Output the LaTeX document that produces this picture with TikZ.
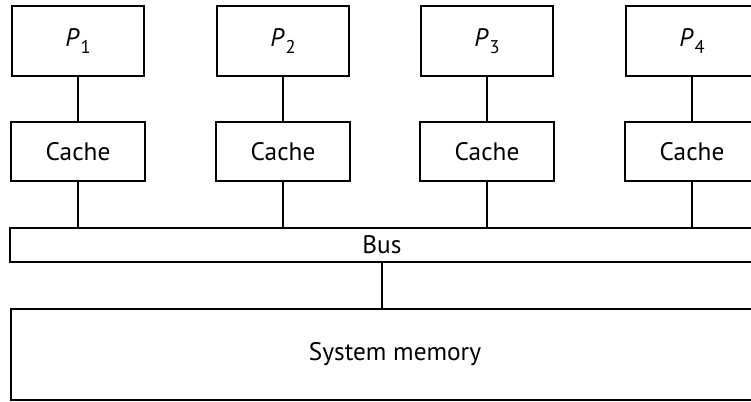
\documentclass[tikz,border=0pt]{standalone}
\usepackage{fontspec}
\setmainfont{PT Sans}
\newcommand{\proclabel}[1]{\textit{P}\kern0.5pt\raisebox{-3.8pt}{\fontsize{10.5}{11}\selectfont #1}}
\begin{document}
\begin{tikzpicture}[
    x=0.02cm, y=-0.02cm,
    box/.style={rectangle, draw, line width=1.1pt, inner sep=0pt, font=\fontsize{14.4}{17}\selectfont},
    procbox/.style={box, minimum width=2.64cm, minimum height=1.4cm},
    cachebox/.style={box, minimum width=2.68cm, minimum height=1.18cm},
    link/.style={line width=1.1pt}
]
    \useasboundingbox (0,0) rectangle (751,402);
    \clip (0,0) rectangle (751,402);

    \node [procbox] (p1) at (78,41) {\proclabel{1}};
    \node [procbox] (p2) at (283,41) {\proclabel{2}};
    \node [procbox] (p3) at (487,41) {\proclabel{3}};
    \node [procbox] (p4) at (692,41) {\proclabel{4}};

    \node [cachebox] (c1) at (78,151.75) {Cache};
    \node [cachebox] (c2) at (283,151.75) {Cache};
    \node [cachebox] (c3) at (487,151.75) {Cache};
    \node [cachebox] (c4) at (692,151.75) {Cache};

    \node [box, minimum width=14.88cm, minimum height=0.69cm] (bus) at (382,245) {Bus};
    \node [box, minimum width=15.36cm, minimum height=1.82cm] (mem) at (395,354.5) {System memory};

    \draw [link] (p1) -- (c1);
    \draw [link] (p2) -- (c2);
    \draw [link] (p3) -- (c3);
    \draw [link] (p4) -- (c4);

    % caches onto the bus
    \draw [link] (c1.south) -- (c1.south |- bus.north);
    \draw [link] (c2.south) -- (c2.south |- bus.north);
    \draw [link] (c3.south) -- (c3.south |- bus.north);
    \draw [link] (c4.south) -- (c4.south |- bus.north);

    \draw [link] (bus.south) -- (bus.south |- mem.north);
\end{tikzpicture}
\end{document}
